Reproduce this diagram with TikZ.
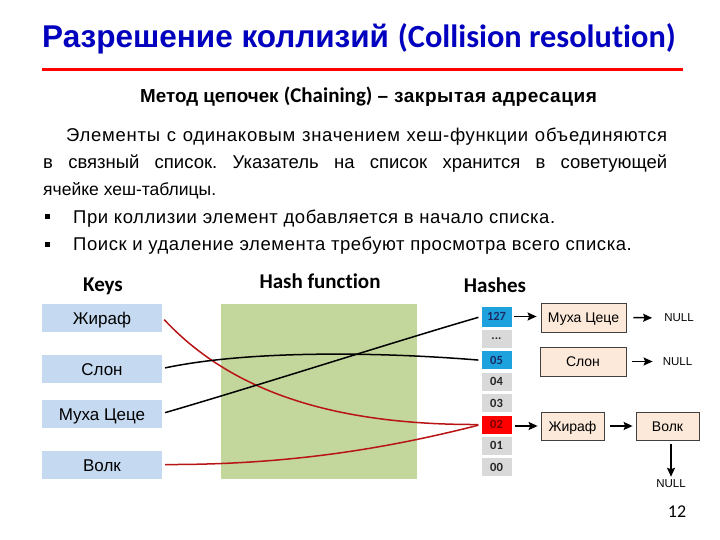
\documentclass[tikz,border=0pt]{standalone}
\usepackage{fontspec}
\setmainfont{Liberation Sans}
\newfontfamily\calfont[Ligatures=NoCommon]{Carlito}
\newfontfamily\spacedfont[LetterSpace=3]{Liberation Sans}
\newfontfamily\widerfont[LetterSpace=4]{Liberation Sans}
\frenchspacing
\usetikzlibrary{arrows.meta}
\definecolor{titleblue}{RGB}{0,0,190}
\definecolor{keyblue}{RGB}{197,217,241}
\definecolor{hashgreen}{RGB}{195,214,155}
\definecolor{cellgray}{RGB}{217,217,217}
\definecolor{cellblue}{RGB}{30,162,222}
\definecolor{cellred}{RGB}{255,0,0}
\definecolor{peach}{RGB}{252,233,217}
\definecolor{boxborder}{RGB}{64,64,64}
\definecolor{curvered}{RGB}{185,20,20}
\definecolor{navytext}{RGB}{25,45,100}
\definecolor{darkredtext}{RGB}{120,0,0}
\tikzset{
  keybox/.style={fill=keyblue, minimum width=120, minimum height=28, inner sep=0, text height=14pt, text depth=0pt, font=\fontsize{17}{20}\selectfont},
  cell/.style={fill=cellgray, minimum width=30, minimum height=18, inner sep=0, text height=8pt, text depth=0pt, text=black!85, font=\calfont\bfseries\fontsize{12.5}{14}\selectfont},
  bluecell/.style={cell, fill=cellblue, text=navytext},
  redcell/.style={cell, fill=cellred, text=darkredtext},
  listbox/.style={draw=boxborder, fill=peach, line width=0.8, minimum height=28, inner sep=0, text height=10pt, text depth=0pt, font=\fontsize{14}{16}\selectfont},
  nulltext/.style={inner sep=1, font=\fontsize{11.5}{13}\selectfont},
  head/.style={anchor=base, inner sep=0, font=\calfont\bfseries\fontsize{21}{24}\selectfont},
  arr/.style={line width=1.5, -{Stealth[length=9,width=8,inset=1.5]}},
  blackcurve/.style={line width=1.5, black, shorten <=3, shorten >=3},
  redcurve/.style={line width=1.5, curvered, shorten <=3, shorten >=3},
  bodytext/.style={anchor=base west, inner sep=0, font=\fontsize{18.5}{22}\selectfont}
}
\begin{document}
\begin{tikzpicture}[x=1pt,y=-1pt]
\useasboundingbox (0,0) rectangle (720,540);
\fill[white] (0,0) rectangle (720,540);

% title
\node[anchor=base west, inner sep=0, text=titleblue] (title) at (42,48)
  {\fontsize{31.5}{36}\selectfont\bfseries Разрешение коллизий \calfont\fontsize{32.3}{36}\selectfont(Collision resolution)};
\draw[red, line width=3] (42,69.5) -- (683,69.5);

% subtitle
\node[anchor=base west, inner sep=0] (sub) at (140,103)
  {\bfseries\fontsize{18.8}{20}\selectfont Метод цепочек {\calfont\fontsize{21}{20}\selectfont(Chaining)} {\spacedfont\fontsize{19}{20}\selectfont – закрытая адресация}};

% paragraph
\node[bodytext] (l1) at (66,142) {\widerfont\makebox[601pt][s]{Элементы с одинаковым значением хеш-функции объединяются}};
\node[bodytext] (l2) at (43,169) {\makebox[624pt][s]{в связный список. Указатель на список хранится в советующей}};
\node[bodytext, font=\fontsize{17.5}{22}\selectfont] (l3) at (43,196) {ячейке хеш-таблицы.};
\node[bodytext] (b1) at (73,223) {\spacedfont При коллизии элемент добавляется в начало списка.};
\node[bodytext] (b2) at (73,250) {\spacedfont Поиск и удаление элемента требуют просмотра всего списка.};
\fill (45,214.5) rectangle (50,219.5);
\fill (45,241.5) rectangle (50,246.5);

% headings
\node[head] (hk) at (103,291) {Keys};
\node[head] (hh) at (320,288) {Hash function};
\node[head] (hs) at (495,292) {Hashes};

% keys
\node[keybox] (k1) at (102,317.5) {Жираф};
\node[keybox] (k2) at (102,368.5) {Слон};
\node[keybox] (k3) at (102,413.5) {Муха Цеце};
\node[keybox] (k4) at (102,464.5) {Волк};

% hash function block
\node[fill=hashgreen, minimum width=196, minimum height=175, inner sep=0] (hf) at (319,391.5) {};

% hash cells
\node[bluecell, minimum height=20] (h127) at (496.5,316.5) {127};
\node[cell] (hdots) at (496.5,338.9) {\raisebox{3pt}{...}};
\node[bluecell] (h05) at (496.5,360.3) {05};
\node[cell] (h04) at (496.5,381.7) {04};
\node[cell] (h03) at (496.5,403.1) {03};
\node[redcell] (h02) at (496.5,424.5) {02};
\node[cell] (h01) at (496.5,445.9) {01};
\node[cell] (h00) at (496.5,467.3) {00};

% list boxes
\node[listbox, minimum width=85, minimum height=29] (m1) at (583.5,317.5) {Муха Цеце};
\node[listbox, minimum width=86, minimum height=29] (m2) at (583,361.5) {Слон};
\node[listbox, minimum width=63] (m3) at (572.5,426) {Жираф};
\node[listbox, minimum width=63] (m4) at (667.5,426) {Волк};

\node[nulltext] (n1) at (679,318) {NULL};
\node[nulltext] (n2) at (677.5,361.5) {NULL};
\node[nulltext] (n3) at (671,484) {NULL};

% arrows
\draw[arr, shorten <=2.5, shorten >=4] (h127.east) -- (h127.east -| m1.west);
\draw[arr, shorten <=7, shorten >=11] (m1.east) -- (n1.west);
\draw[arr, shorten <=6, shorten >=9] (m2.east) -- (n2.west);
\draw[arr, shorten <=3, shorten >=3] (h02.east |- m3.west) -- (m3.west);
\draw[arr, shorten <=6, shorten >=3] (m3.east) -- (m4.west);
\draw[arr, shorten <=4, shorten >=2] (m4.south -| n3.north) -- (n3.north);

% curves
\draw[redcurve] (k1.east) .. controls (230,390) and (330,425) .. (h02.west);
\draw[redcurve] (k4.east) .. controls (300,465) and (400,445) .. (h02.west);
\draw[blackcurve] (k2.east) .. controls (250,350) and (380,352) .. (h05.west);
\draw[blackcurve] (k3.east) .. controls (260,385) and (400,340) .. (h127.west);

% page number
\node[inner sep=0, font=\calfont\fontsize{18}{20}\selectfont] (pg) at (677,512) {12};
\end{tikzpicture}
\end{document}
